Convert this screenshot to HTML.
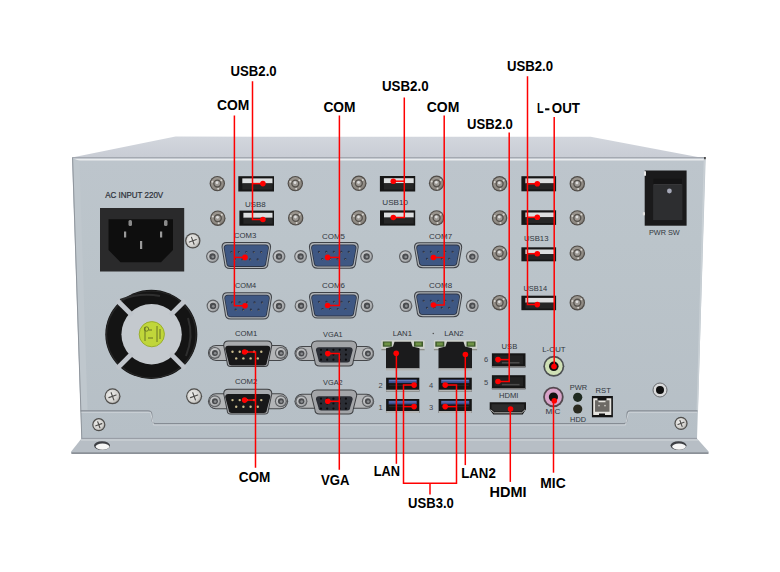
<!DOCTYPE html>
<html><head><meta charset="utf-8"><style>
html,body{margin:0;padding:0;background:#fff;width:780px;height:572px;overflow:hidden}
svg{display:block;font-family:"Liberation Sans",sans-serif}
</style></head><body>
<svg width="780" height="572" viewBox="0 0 780 572" font-family="Liberation Sans, sans-serif">
<defs>
<radialGradient id="gScrew" cx="0.4" cy="0.4" r="0.7"><stop offset="0" stop-color="#f0f0ee"/><stop offset="0.7" stop-color="#d2d1ce"/><stop offset="1" stop-color="#9b9a97"/></radialGradient>
<radialGradient id="gStud" cx="0.45" cy="0.4" r="0.7"><stop offset="0" stop-color="#aaa59e"/><stop offset="0.7" stop-color="#8f8a83"/><stop offset="1" stop-color="#625e59"/></radialGradient>
<radialGradient id="gNut" cx="0.4" cy="0.4" r="0.7"><stop offset="0" stop-color="#dadbdc"/><stop offset="0.7" stop-color="#b0b2b4"/><stop offset="1" stop-color="#7e8083"/></radialGradient>
<linearGradient id="gTop" x1="0" y1="0" x2="0" y2="1"><stop offset="0" stop-color="#d2d6dd"/><stop offset="1" stop-color="#c8ccd4"/></linearGradient>
<linearGradient id="gFront" x1="0" y1="0" x2="0" y2="1"><stop offset="0" stop-color="#bdc5cc"/><stop offset="0.3" stop-color="#bbc4ca"/><stop offset="1" stop-color="#b6bfc6"/></linearGradient>
</defs>
<rect width="780" height="572" fill="#fff"/>
<path d="M72,157.5 L175.5,136.6 L590.6,136.8 L705.7,158.6 Z" fill="url(#gTop)"/>
<path d="M72,158 L705.7,158 L697,439 L81.5,439 Z" fill="url(#gFront)"/>
<line x1="72" y1="157.6" x2="705.7" y2="157.6" stroke="#a4a9b1" stroke-width="1.2"/>
<line x1="73" y1="159.6" x2="705" y2="159.6" stroke="#e9ecee" stroke-width="1.8"/>
<path d="M72.3,158 L79.5,161 L87.5,410.5 L80.6,410.5 Z" fill="#bfc7cd"/>
<line x1="72.6" y1="158" x2="81.8" y2="439" stroke="#8f959c" stroke-width="1"/>
<line x1="704.5" y1="158" x2="697.3" y2="411" stroke="#c9d0d5" stroke-width="1.5"/>
<rect x="704" y="157" width="1.8" height="2.2" fill="#4a4a4a"/>
<path d="M80.5,410.9 L148,410.9 Q151.5,411 151.8,414 L152.2,421 Q152.5,423.6 155,423.6 L624,423.6 Q626.5,423.6 626.8,421 L627,414 Q627.2,410.9 630,410.9 L697.5,410.9" fill="none" stroke="#868c94" stroke-width="1.1"/>
<path d="M81.5,412.3 L150.5,412.3 L153.5,425 L625.5,425 L628.5,412.3 L697,412.3" fill="none" stroke="#cdd2d7" stroke-width="1"/>
<path d="M81.5,438.6 L697,438.6 L708.6,451.5 Q709,454 706,454 L73,454 Q70.5,454 71.2,451.5 Z" fill="#b7bec5"/>
<line x1="81.5" y1="438.4" x2="697" y2="438.4" stroke="#959ba3" stroke-width="1"/>
<line x1="81" y1="440" x2="698" y2="440" stroke="#d3d8dc" stroke-width="1.2"/>
<line x1="71.5" y1="453.2" x2="708.5" y2="453.2" stroke="#8b9097" stroke-width="1.8"/>
<ellipse cx="102" cy="445.6" rx="8" ry="4.3" fill="#3e4045"/>
<ellipse cx="102.5" cy="446.6" rx="6.8" ry="3.1" fill="#f6f6f6"/>
<ellipse cx="678.5" cy="445.6" rx="8" ry="4.3" fill="#3e4045"/>
<ellipse cx="679.0" cy="446.6" rx="6.8" ry="3.1" fill="#f6f6f6"/>
<rect x="100" y="208" width="84.2" height="63.5" fill="#2a2a2b"/>
<path d="M108.5,219.2 L173,219.2 L173,250 L161,262.3 L120.5,262.3 L108.5,250 Z" fill="#0e0e0e"/>
<rect x="124" y="231.5" width="2.2" height="6" fill="#9a9a9a"/>
<rect x="160" y="231.5" width="2.2" height="6" fill="#9a9a9a"/>
<rect x="140" y="241" width="2.2" height="8" fill="#9a9a9a"/>
<rect x="128.5" y="220" width="3.5" height="6" rx="1.5" fill="#8a8a8a"/>
<rect x="164" y="220" width="3.5" height="6" rx="1.5" fill="#8a8a8a"/>
<text x="105.2" y="197.9" font-size="8.2" fill="#2c3038" stroke="#2c3038" stroke-width="0.22" textLength="58" lengthAdjust="spacingAndGlyphs">AC INPUT 220V</text>
<circle cx="192.8" cy="240.8" r="7.7" fill="#4e4d4b"/>
<circle cx="192.8" cy="240.8" r="6.50" fill="url(#gScrew)"/>
<g transform="translate(192.8 240.8) rotate(-20)" stroke="#4f4e4c" stroke-width="1.15" stroke-linecap="round"><line x1="-3.70" y1="0" x2="3.70" y2="0"/><line x1="0" y1="-3.70" x2="0" y2="3.70"/></g>
<ellipse cx="151.3" cy="334.4" rx="46" ry="44.6" fill="#141414"/>
<ellipse cx="151.3" cy="334.4" rx="44.8" ry="43.4" fill="none" stroke="#262626" stroke-width="1.2"/>
<path d="M120,300 Q140,292 160,296" fill="none" stroke="#2e2e2e" stroke-width="2"/>
<path d="M188,318 Q194,336 186,356" fill="none" stroke="#2e2e2e" stroke-width="2"/>
<circle cx="151.6" cy="334.2" r="30.2" fill="#c4c9ce"/>
<g transform="translate(151.2 334.4) rotate(45)"><rect x="27" y="-2.4" width="21" height="4.8" fill="#c0c5cb"/></g>
<g transform="translate(151.2 334.4) rotate(135)"><rect x="27" y="-2.4" width="21" height="4.8" fill="#c0c5cb"/></g>
<g transform="translate(151.2 334.4) rotate(225)"><rect x="27" y="-2.4" width="21" height="4.8" fill="#c0c5cb"/></g>
<g transform="translate(151.2 334.4) rotate(315)"><rect x="27" y="-2.4" width="21" height="4.8" fill="#c0c5cb"/></g>
<circle cx="151.8" cy="334.2" r="12.6" fill="#c0d63a"/>
<circle cx="151.8" cy="334.2" r="12.6" fill="none" stroke="#9aae2c" stroke-width="1"/>
<line x1="145" y1="327" x2="145" y2="341" stroke="#5e6a22" stroke-width="0.9"/>
<line x1="157" y1="326" x2="157" y2="342" stroke="#5e6a22" stroke-width="0.9"/>
<line x1="149" y1="330" x2="152" y2="330" stroke="#5e6a22" stroke-width="0.9"/>
<line x1="148" y1="338" x2="153" y2="338" stroke="#5e6a22" stroke-width="0.9"/>
<line x1="160" y1="329" x2="160" y2="339" stroke="#5e6a22" stroke-width="0.9"/>
<circle cx="146.5" cy="329" r="2.2" fill="none" stroke="#5e6a22" stroke-width="0.8"/>
<circle cx="112.5" cy="396.3" r="8" fill="#4e4d4b"/>
<circle cx="112.5" cy="396.3" r="6.80" fill="url(#gScrew)"/>
<g transform="translate(112.5 396.3) rotate(-20)" stroke="#4f4e4c" stroke-width="1.15" stroke-linecap="round"><line x1="-3.84" y1="0" x2="3.84" y2="0"/><line x1="0" y1="-3.84" x2="0" y2="3.84"/></g>
<circle cx="194.1" cy="396.3" r="8" fill="#4e4d4b"/>
<circle cx="194.1" cy="396.3" r="6.80" fill="url(#gScrew)"/>
<g transform="translate(194.1 396.3) rotate(-20)" stroke="#4f4e4c" stroke-width="1.15" stroke-linecap="round"><line x1="-3.84" y1="0" x2="3.84" y2="0"/><line x1="0" y1="-3.84" x2="0" y2="3.84"/></g>
<circle cx="98.8" cy="424.7" r="6.6" fill="#4e4d4b"/>
<circle cx="98.8" cy="424.7" r="5.40" fill="url(#gScrew)"/>
<g transform="translate(98.8 424.7) rotate(-20)" stroke="#4f4e4c" stroke-width="1.15" stroke-linecap="round"><line x1="-3.17" y1="0" x2="3.17" y2="0"/><line x1="0" y1="-3.17" x2="0" y2="3.17"/></g>
<circle cx="681" cy="423.4" r="6.6" fill="#4e4d4b"/>
<circle cx="681" cy="423.4" r="5.40" fill="url(#gScrew)"/>
<g transform="translate(681 423.4) rotate(-20)" stroke="#4f4e4c" stroke-width="1.15" stroke-linecap="round"><line x1="-3.17" y1="0" x2="3.17" y2="0"/><line x1="0" y1="-3.17" x2="0" y2="3.17"/></g>
<circle cx="217.3" cy="183.6" r="7.7" fill="#4f4b47"/>
<circle cx="217.3" cy="183.6" r="6.60" fill="url(#gStud)"/>
<circle cx="217.3" cy="183.6" r="3.47" fill="#9d9994" stroke="#56524d" stroke-width="1.4"/>
<circle cx="217.0" cy="182.7" r="1.39" fill="#dcdcdc"/>
<circle cx="212.38" cy="181.81" r="1" fill="#d6d4d0"/>
<circle cx="221.31" cy="180.23" r="1" fill="#d6d4d0"/>
<circle cx="218.21" cy="188.76" r="1" fill="#d6d4d0"/>
<circle cx="217.8" cy="218.2" r="7.7" fill="#4f4b47"/>
<circle cx="217.8" cy="218.2" r="6.60" fill="url(#gStud)"/>
<circle cx="217.8" cy="218.2" r="3.47" fill="#9d9994" stroke="#56524d" stroke-width="1.4"/>
<circle cx="217.5" cy="217.29999999999998" r="1.39" fill="#dcdcdc"/>
<circle cx="212.88" cy="216.41" r="1" fill="#d6d4d0"/>
<circle cx="221.81" cy="214.83" r="1" fill="#d6d4d0"/>
<circle cx="218.71" cy="223.36" r="1" fill="#d6d4d0"/>
<circle cx="295.3" cy="183.6" r="7.7" fill="#4f4b47"/>
<circle cx="295.3" cy="183.6" r="6.60" fill="url(#gStud)"/>
<circle cx="295.3" cy="183.6" r="3.47" fill="#9d9994" stroke="#56524d" stroke-width="1.4"/>
<circle cx="295.0" cy="182.7" r="1.39" fill="#dcdcdc"/>
<circle cx="290.38" cy="181.81" r="1" fill="#d6d4d0"/>
<circle cx="299.31" cy="180.23" r="1" fill="#d6d4d0"/>
<circle cx="296.21" cy="188.76" r="1" fill="#d6d4d0"/>
<circle cx="295.7" cy="217.9" r="7.7" fill="#4f4b47"/>
<circle cx="295.7" cy="217.9" r="6.60" fill="url(#gStud)"/>
<circle cx="295.7" cy="217.9" r="3.47" fill="#9d9994" stroke="#56524d" stroke-width="1.4"/>
<circle cx="295.4" cy="217.0" r="1.39" fill="#dcdcdc"/>
<circle cx="290.78" cy="216.11" r="1" fill="#d6d4d0"/>
<circle cx="299.71" cy="214.53" r="1" fill="#d6d4d0"/>
<circle cx="296.61" cy="223.06" r="1" fill="#d6d4d0"/>
<circle cx="358.8" cy="183.3" r="7.7" fill="#4f4b47"/>
<circle cx="358.8" cy="183.3" r="6.60" fill="url(#gStud)"/>
<circle cx="358.8" cy="183.3" r="3.47" fill="#9d9994" stroke="#56524d" stroke-width="1.4"/>
<circle cx="358.5" cy="182.4" r="1.39" fill="#dcdcdc"/>
<circle cx="353.88" cy="181.51" r="1" fill="#d6d4d0"/>
<circle cx="362.81" cy="179.93" r="1" fill="#d6d4d0"/>
<circle cx="359.71" cy="188.46" r="1" fill="#d6d4d0"/>
<circle cx="358.8" cy="217.9" r="7.7" fill="#4f4b47"/>
<circle cx="358.8" cy="217.9" r="6.60" fill="url(#gStud)"/>
<circle cx="358.8" cy="217.9" r="3.47" fill="#9d9994" stroke="#56524d" stroke-width="1.4"/>
<circle cx="358.5" cy="217.0" r="1.39" fill="#dcdcdc"/>
<circle cx="353.88" cy="216.11" r="1" fill="#d6d4d0"/>
<circle cx="362.81" cy="214.53" r="1" fill="#d6d4d0"/>
<circle cx="359.71" cy="223.06" r="1" fill="#d6d4d0"/>
<circle cx="436.6" cy="183.3" r="7.7" fill="#4f4b47"/>
<circle cx="436.6" cy="183.3" r="6.60" fill="url(#gStud)"/>
<circle cx="436.6" cy="183.3" r="3.47" fill="#9d9994" stroke="#56524d" stroke-width="1.4"/>
<circle cx="436.3" cy="182.4" r="1.39" fill="#dcdcdc"/>
<circle cx="431.68" cy="181.51" r="1" fill="#d6d4d0"/>
<circle cx="440.61" cy="179.93" r="1" fill="#d6d4d0"/>
<circle cx="437.51" cy="188.46" r="1" fill="#d6d4d0"/>
<circle cx="436.6" cy="217.9" r="7.7" fill="#4f4b47"/>
<circle cx="436.6" cy="217.9" r="6.60" fill="url(#gStud)"/>
<circle cx="436.6" cy="217.9" r="3.47" fill="#9d9994" stroke="#56524d" stroke-width="1.4"/>
<circle cx="436.3" cy="217.0" r="1.39" fill="#dcdcdc"/>
<circle cx="431.68" cy="216.11" r="1" fill="#d6d4d0"/>
<circle cx="440.61" cy="214.53" r="1" fill="#d6d4d0"/>
<circle cx="437.51" cy="223.06" r="1" fill="#d6d4d0"/>
<circle cx="499.6" cy="183.8" r="7.7" fill="#4f4b47"/>
<circle cx="499.6" cy="183.8" r="6.60" fill="url(#gStud)"/>
<circle cx="499.6" cy="183.8" r="3.47" fill="#9d9994" stroke="#56524d" stroke-width="1.4"/>
<circle cx="499.3" cy="182.9" r="1.39" fill="#dcdcdc"/>
<circle cx="494.68" cy="182.01" r="1" fill="#d6d4d0"/>
<circle cx="503.61" cy="180.43" r="1" fill="#d6d4d0"/>
<circle cx="500.51" cy="188.96" r="1" fill="#d6d4d0"/>
<circle cx="499.6" cy="217.9" r="7.7" fill="#4f4b47"/>
<circle cx="499.6" cy="217.9" r="6.60" fill="url(#gStud)"/>
<circle cx="499.6" cy="217.9" r="3.47" fill="#9d9994" stroke="#56524d" stroke-width="1.4"/>
<circle cx="499.3" cy="217.0" r="1.39" fill="#dcdcdc"/>
<circle cx="494.68" cy="216.11" r="1" fill="#d6d4d0"/>
<circle cx="503.61" cy="214.53" r="1" fill="#d6d4d0"/>
<circle cx="500.51" cy="223.06" r="1" fill="#d6d4d0"/>
<circle cx="499.6" cy="253.1" r="7.7" fill="#4f4b47"/>
<circle cx="499.6" cy="253.1" r="6.60" fill="url(#gStud)"/>
<circle cx="499.6" cy="253.1" r="3.47" fill="#9d9994" stroke="#56524d" stroke-width="1.4"/>
<circle cx="499.3" cy="252.2" r="1.39" fill="#dcdcdc"/>
<circle cx="494.68" cy="251.31" r="1" fill="#d6d4d0"/>
<circle cx="503.61" cy="249.73" r="1" fill="#d6d4d0"/>
<circle cx="500.51" cy="258.26" r="1" fill="#d6d4d0"/>
<circle cx="499.6" cy="302.7" r="7.7" fill="#4f4b47"/>
<circle cx="499.6" cy="302.7" r="6.60" fill="url(#gStud)"/>
<circle cx="499.6" cy="302.7" r="3.47" fill="#9d9994" stroke="#56524d" stroke-width="1.4"/>
<circle cx="499.3" cy="301.8" r="1.39" fill="#dcdcdc"/>
<circle cx="494.68" cy="300.91" r="1" fill="#d6d4d0"/>
<circle cx="503.61" cy="299.33" r="1" fill="#d6d4d0"/>
<circle cx="500.51" cy="307.86" r="1" fill="#d6d4d0"/>
<circle cx="577.3" cy="183.8" r="7.7" fill="#4f4b47"/>
<circle cx="577.3" cy="183.8" r="6.60" fill="url(#gStud)"/>
<circle cx="577.3" cy="183.8" r="3.47" fill="#9d9994" stroke="#56524d" stroke-width="1.4"/>
<circle cx="577.0" cy="182.9" r="1.39" fill="#dcdcdc"/>
<circle cx="572.38" cy="182.01" r="1" fill="#d6d4d0"/>
<circle cx="581.31" cy="180.43" r="1" fill="#d6d4d0"/>
<circle cx="578.21" cy="188.96" r="1" fill="#d6d4d0"/>
<circle cx="577.3" cy="217.9" r="7.7" fill="#4f4b47"/>
<circle cx="577.3" cy="217.9" r="6.60" fill="url(#gStud)"/>
<circle cx="577.3" cy="217.9" r="3.47" fill="#9d9994" stroke="#56524d" stroke-width="1.4"/>
<circle cx="577.0" cy="217.0" r="1.39" fill="#dcdcdc"/>
<circle cx="572.38" cy="216.11" r="1" fill="#d6d4d0"/>
<circle cx="581.31" cy="214.53" r="1" fill="#d6d4d0"/>
<circle cx="578.21" cy="223.06" r="1" fill="#d6d4d0"/>
<circle cx="577.3" cy="253.1" r="7.7" fill="#4f4b47"/>
<circle cx="577.3" cy="253.1" r="6.60" fill="url(#gStud)"/>
<circle cx="577.3" cy="253.1" r="3.47" fill="#9d9994" stroke="#56524d" stroke-width="1.4"/>
<circle cx="577.0" cy="252.2" r="1.39" fill="#dcdcdc"/>
<circle cx="572.38" cy="251.31" r="1" fill="#d6d4d0"/>
<circle cx="581.31" cy="249.73" r="1" fill="#d6d4d0"/>
<circle cx="578.21" cy="258.26" r="1" fill="#d6d4d0"/>
<circle cx="577.3" cy="302.7" r="7.7" fill="#4f4b47"/>
<circle cx="577.3" cy="302.7" r="6.60" fill="url(#gStud)"/>
<circle cx="577.3" cy="302.7" r="3.47" fill="#9d9994" stroke="#56524d" stroke-width="1.4"/>
<circle cx="577.0" cy="301.8" r="1.39" fill="#dcdcdc"/>
<circle cx="572.38" cy="300.91" r="1" fill="#d6d4d0"/>
<circle cx="581.31" cy="299.33" r="1" fill="#d6d4d0"/>
<circle cx="578.21" cy="307.86" r="1" fill="#d6d4d0"/>
<rect x="238.3" y="176.2" width="35.7" height="15.3" fill="#161616"/>
<rect x="242.3" y="178.39999999999998" width="30.2" height="5.0" fill="#dcdedf"/>
<rect x="242.3" y="183.4" width="30.2" height="6.1" fill="#262626"/>
<rect x="239.4" y="210.6" width="34.6" height="15.1" fill="#161616"/>
<rect x="243.4" y="212.79999999999998" width="29.1" height="5.0" fill="#dcdedf"/>
<rect x="243.4" y="217.8" width="29.1" height="6.0" fill="#262626"/>
<text x="245" y="206.9" font-size="8" fill="#30353c" textLength="20.8" lengthAdjust="spacingAndGlyphs">USB8</text>
<rect x="379.9" y="176" width="35.3" height="15.5" fill="#161616"/>
<rect x="383.9" y="178.2" width="29.8" height="5.1" fill="#dcdedf"/>
<rect x="383.9" y="183.3" width="29.8" height="6.2" fill="#262626"/>
<rect x="380" y="210.4" width="35.2" height="15.2" fill="#161616"/>
<rect x="384" y="212.6" width="29.7" height="5.0" fill="#dcdedf"/>
<rect x="384" y="217.6" width="29.7" height="6.1" fill="#262626"/>
<text x="382.3" y="205.2" font-size="8" fill="#30353c" textLength="25.7" lengthAdjust="spacingAndGlyphs">USB10</text>
<rect x="521.4" y="176.2" width="34.7" height="15.1" fill="#161616"/>
<rect x="525.4" y="178.39999999999998" width="29.2" height="5.0" fill="#dcdedf"/>
<rect x="525.4" y="183.4" width="29.2" height="6.0" fill="#262626"/>
<rect x="521.4" y="210.3" width="34.7" height="14.6" fill="#161616"/>
<rect x="525.4" y="212.5" width="29.2" height="4.8" fill="#dcdedf"/>
<rect x="525.4" y="217.3" width="29.2" height="5.8" fill="#262626"/>
<text x="523.9" y="241.1" font-size="8" fill="#30353c" textLength="24.6" lengthAdjust="spacingAndGlyphs">USB13</text>
<rect x="521.4" y="247.3" width="34.7" height="14.0" fill="#161616"/>
<rect x="525.4" y="249.5" width="29.2" height="4.6" fill="#dcdedf"/>
<rect x="525.4" y="254.1" width="29.2" height="5.6" fill="#262626"/>
<text x="523.4" y="290.9" font-size="8" fill="#30353c" textLength="23.7" lengthAdjust="spacingAndGlyphs">USB14</text>
<rect x="521.4" y="295.7" width="34.7" height="14.5" fill="#161616"/>
<rect x="525.4" y="297.9" width="29.2" height="4.8" fill="#dcdedf"/>
<rect x="525.4" y="302.7" width="29.2" height="5.8" fill="#262626"/>
<path d="M226.50,242.10 L266.10,242.10 Q271.10,242.10 271.10,247.10 L268.50,263.10 Q268.50,269.10 262.50,269.10 L230.10,269.10 Q224.10,269.10 224.10,263.10 L221.50,247.10 Q221.50,242.10 226.50,242.10 Z" fill="#3f4247"/>
<path d="M226.80,243.10 L265.80,243.10 Q270.10,243.10 270.10,247.40 L267.50,262.90 Q267.50,268.10 262.30,268.10 L230.30,268.10 Q225.10,268.10 225.10,262.90 L222.50,247.40 Q222.50,243.10 226.80,243.10 Z" fill="#aeb2b6"/>
<path d="M227.20,244.50 L265.40,244.50 Q268.90,244.50 268.90,248.00 L266.30,262.70 Q266.30,266.90 262.10,266.90 L230.50,266.90 Q226.30,266.90 226.30,262.70 L223.70,248.00 Q223.70,244.50 227.20,244.50 Z" fill="#2c3546"/>
<path d="M227.50,245.30 L265.10,245.30 Q268.10,245.30 268.10,248.30 L265.50,262.50 Q265.50,266.10 261.90,266.10 L230.70,266.10 Q227.10,266.10 227.10,262.50 L224.50,248.30 Q224.50,245.30 227.50,245.30 Z" fill="#3e5783"/>
<circle cx="231.4" cy="252.1" r="1.1" fill="#27314a"/>
<circle cx="231.8" cy="252.6" r="0.5" fill="#8a8470"/>
<circle cx="238.9" cy="252.1" r="1.1" fill="#27314a"/>
<circle cx="239.3" cy="252.6" r="0.5" fill="#8a8470"/>
<circle cx="246.3" cy="252.1" r="1.1" fill="#27314a"/>
<circle cx="246.7" cy="252.6" r="0.5" fill="#8a8470"/>
<circle cx="253.7" cy="252.1" r="1.1" fill="#27314a"/>
<circle cx="254.1" cy="252.6" r="0.5" fill="#8a8470"/>
<circle cx="261.2" cy="252.1" r="1.1" fill="#27314a"/>
<circle cx="261.6" cy="252.6" r="0.5" fill="#8a8470"/>
<circle cx="234.9" cy="259.4" r="1.1" fill="#27314a"/>
<circle cx="235.3" cy="259.9" r="0.5" fill="#8a8470"/>
<circle cx="242.5" cy="259.4" r="1.1" fill="#27314a"/>
<circle cx="242.9" cy="259.9" r="0.5" fill="#8a8470"/>
<circle cx="250.1" cy="259.4" r="1.1" fill="#27314a"/>
<circle cx="250.5" cy="259.9" r="0.5" fill="#8a8470"/>
<circle cx="257.7" cy="259.4" r="1.1" fill="#27314a"/>
<circle cx="258.1" cy="259.9" r="0.5" fill="#8a8470"/>
<text x="234" y="238.3" font-size="8" fill="#30353c" textLength="22.3" lengthAdjust="spacingAndGlyphs">COM3</text>
<path d="M227.10,292.30 L267.00,292.30 Q272.00,292.30 272.00,297.30 L269.40,313.50 Q269.40,319.50 263.40,319.50 L230.70,319.50 Q224.70,319.50 224.70,313.50 L222.10,297.30 Q222.10,292.30 227.10,292.30 Z" fill="#3f4247"/>
<path d="M227.40,293.30 L266.70,293.30 Q271.00,293.30 271.00,297.60 L268.40,313.30 Q268.40,318.50 263.20,318.50 L230.90,318.50 Q225.70,318.50 225.70,313.30 L223.10,297.60 Q223.10,293.30 227.40,293.30 Z" fill="#aeb2b6"/>
<path d="M227.80,294.70 L266.30,294.70 Q269.80,294.70 269.80,298.20 L267.20,313.10 Q267.20,317.30 263.00,317.30 L231.10,317.30 Q226.90,317.30 226.90,313.10 L224.30,298.20 Q224.30,294.70 227.80,294.70 Z" fill="#2c3546"/>
<path d="M228.10,295.50 L266.00,295.50 Q269.00,295.50 269.00,298.50 L266.40,312.90 Q266.40,316.50 262.80,316.50 L231.30,316.50 Q227.70,316.50 227.70,312.90 L225.10,298.50 Q225.10,295.50 228.10,295.50 Z" fill="#3e5783"/>
<circle cx="232.1" cy="302.4" r="1.1" fill="#27314a"/>
<circle cx="232.5" cy="302.9" r="0.5" fill="#8a8470"/>
<circle cx="239.6" cy="302.4" r="1.1" fill="#27314a"/>
<circle cx="240.0" cy="302.9" r="0.5" fill="#8a8470"/>
<circle cx="247.0" cy="302.4" r="1.1" fill="#27314a"/>
<circle cx="247.4" cy="302.9" r="0.5" fill="#8a8470"/>
<circle cx="254.5" cy="302.4" r="1.1" fill="#27314a"/>
<circle cx="254.9" cy="302.9" r="0.5" fill="#8a8470"/>
<circle cx="262.0" cy="302.4" r="1.1" fill="#27314a"/>
<circle cx="262.4" cy="302.9" r="0.5" fill="#8a8470"/>
<circle cx="235.6" cy="309.7" r="1.1" fill="#27314a"/>
<circle cx="236.0" cy="310.2" r="0.5" fill="#8a8470"/>
<circle cx="243.2" cy="309.7" r="1.1" fill="#27314a"/>
<circle cx="243.6" cy="310.2" r="0.5" fill="#8a8470"/>
<circle cx="250.9" cy="309.7" r="1.1" fill="#27314a"/>
<circle cx="251.3" cy="310.2" r="0.5" fill="#8a8470"/>
<circle cx="258.5" cy="309.7" r="1.1" fill="#27314a"/>
<circle cx="258.9" cy="310.2" r="0.5" fill="#8a8470"/>
<text x="234.9" y="288" font-size="8" fill="#30353c" textLength="21.3" lengthAdjust="spacingAndGlyphs">COM4</text>
<path d="M313.90,242.10 L353.70,242.10 Q358.70,242.10 358.70,247.10 L356.10,262.70 Q356.10,268.70 350.10,268.70 L317.50,268.70 Q311.50,268.70 311.50,262.70 L308.90,247.10 Q308.90,242.10 313.90,242.10 Z" fill="#3f4247"/>
<path d="M314.20,243.10 L353.40,243.10 Q357.70,243.10 357.70,247.40 L355.10,262.50 Q355.10,267.70 349.90,267.70 L317.70,267.70 Q312.50,267.70 312.50,262.50 L309.90,247.40 Q309.90,243.10 314.20,243.10 Z" fill="#aeb2b6"/>
<path d="M314.60,244.50 L353.00,244.50 Q356.50,244.50 356.50,248.00 L353.90,262.30 Q353.90,266.50 349.70,266.50 L317.90,266.50 Q313.70,266.50 313.70,262.30 L311.10,248.00 Q311.10,244.50 314.60,244.50 Z" fill="#2c3546"/>
<path d="M314.90,245.30 L352.70,245.30 Q355.70,245.30 355.70,248.30 L353.10,262.10 Q353.10,265.70 349.50,265.70 L318.10,265.70 Q314.50,265.70 314.50,262.10 L311.90,248.30 Q311.90,245.30 314.90,245.30 Z" fill="#3e5783"/>
<circle cx="318.9" cy="251.9" r="1.1" fill="#27314a"/>
<circle cx="319.3" cy="252.4" r="0.5" fill="#8a8470"/>
<circle cx="326.3" cy="251.9" r="1.1" fill="#27314a"/>
<circle cx="326.7" cy="252.4" r="0.5" fill="#8a8470"/>
<circle cx="333.8" cy="251.9" r="1.1" fill="#27314a"/>
<circle cx="334.2" cy="252.4" r="0.5" fill="#8a8470"/>
<circle cx="341.3" cy="251.9" r="1.1" fill="#27314a"/>
<circle cx="341.7" cy="252.4" r="0.5" fill="#8a8470"/>
<circle cx="348.7" cy="251.9" r="1.1" fill="#27314a"/>
<circle cx="349.1" cy="252.4" r="0.5" fill="#8a8470"/>
<circle cx="322.3" cy="259.1" r="1.1" fill="#27314a"/>
<circle cx="322.7" cy="259.6" r="0.5" fill="#8a8470"/>
<circle cx="330.0" cy="259.1" r="1.1" fill="#27314a"/>
<circle cx="330.4" cy="259.6" r="0.5" fill="#8a8470"/>
<circle cx="337.6" cy="259.1" r="1.1" fill="#27314a"/>
<circle cx="338.0" cy="259.6" r="0.5" fill="#8a8470"/>
<circle cx="345.3" cy="259.1" r="1.1" fill="#27314a"/>
<circle cx="345.7" cy="259.6" r="0.5" fill="#8a8470"/>
<text x="322" y="239" font-size="8" fill="#30353c" textLength="23.0" lengthAdjust="spacingAndGlyphs">COM5</text>
<path d="M314.00,292.00 L354.00,292.00 Q359.00,292.00 359.00,297.00 L356.40,312.60 Q356.40,318.60 350.40,318.60 L317.60,318.60 Q311.60,318.60 311.60,312.60 L309.00,297.00 Q309.00,292.00 314.00,292.00 Z" fill="#3f4247"/>
<path d="M314.30,293.00 L353.70,293.00 Q358.00,293.00 358.00,297.30 L355.40,312.40 Q355.40,317.60 350.20,317.60 L317.80,317.60 Q312.60,317.60 312.60,312.40 L310.00,297.30 Q310.00,293.00 314.30,293.00 Z" fill="#aeb2b6"/>
<path d="M314.70,294.40 L353.30,294.40 Q356.80,294.40 356.80,297.90 L354.20,312.20 Q354.20,316.40 350.00,316.40 L318.00,316.40 Q313.80,316.40 313.80,312.20 L311.20,297.90 Q311.20,294.40 314.70,294.40 Z" fill="#2c3546"/>
<path d="M315.00,295.20 L353.00,295.20 Q356.00,295.20 356.00,298.20 L353.40,312.00 Q353.40,315.60 349.80,315.60 L318.20,315.60 Q314.60,315.60 314.60,312.00 L312.00,298.20 Q312.00,295.20 315.00,295.20 Z" fill="#3e5783"/>
<circle cx="319.0" cy="301.8" r="1.1" fill="#27314a"/>
<circle cx="319.4" cy="302.3" r="0.5" fill="#8a8470"/>
<circle cx="326.5" cy="301.8" r="1.1" fill="#27314a"/>
<circle cx="326.9" cy="302.3" r="0.5" fill="#8a8470"/>
<circle cx="334.0" cy="301.8" r="1.1" fill="#27314a"/>
<circle cx="334.4" cy="302.3" r="0.5" fill="#8a8470"/>
<circle cx="341.5" cy="301.8" r="1.1" fill="#27314a"/>
<circle cx="341.9" cy="302.3" r="0.5" fill="#8a8470"/>
<circle cx="349.0" cy="301.8" r="1.1" fill="#27314a"/>
<circle cx="349.4" cy="302.3" r="0.5" fill="#8a8470"/>
<circle cx="322.5" cy="309.0" r="1.1" fill="#27314a"/>
<circle cx="322.9" cy="309.5" r="0.5" fill="#8a8470"/>
<circle cx="330.2" cy="309.0" r="1.1" fill="#27314a"/>
<circle cx="330.6" cy="309.5" r="0.5" fill="#8a8470"/>
<circle cx="337.8" cy="309.0" r="1.1" fill="#27314a"/>
<circle cx="338.2" cy="309.5" r="0.5" fill="#8a8470"/>
<circle cx="345.5" cy="309.0" r="1.1" fill="#27314a"/>
<circle cx="345.9" cy="309.5" r="0.5" fill="#8a8470"/>
<text x="322" y="288" font-size="8" fill="#30353c" textLength="23.0" lengthAdjust="spacingAndGlyphs">COM6</text>
<path d="M419.00,242.20 L457.20,242.20 Q462.20,242.20 462.20,247.20 L459.60,262.20 Q459.60,268.20 453.60,268.20 L422.60,268.20 Q416.60,268.20 416.60,262.20 L414.00,247.20 Q414.00,242.20 419.00,242.20 Z" fill="#3f4247"/>
<path d="M419.30,243.20 L456.90,243.20 Q461.20,243.20 461.20,247.50 L458.60,262.00 Q458.60,267.20 453.40,267.20 L422.80,267.20 Q417.60,267.20 417.60,262.00 L415.00,247.50 Q415.00,243.20 419.30,243.20 Z" fill="#aeb2b6"/>
<path d="M419.70,244.60 L456.50,244.60 Q460.00,244.60 460.00,248.10 L457.40,261.80 Q457.40,266.00 453.20,266.00 L423.00,266.00 Q418.80,266.00 418.80,261.80 L416.20,248.10 Q416.20,244.60 419.70,244.60 Z" fill="#2c3546"/>
<path d="M420.00,245.40 L456.20,245.40 Q459.20,245.40 459.20,248.40 L456.60,261.60 Q456.60,265.20 453.00,265.20 L423.20,265.20 Q419.60,265.20 419.60,261.60 L417.00,248.40 Q417.00,245.40 420.00,245.40 Z" fill="#3e5783"/>
<circle cx="423.6" cy="251.8" r="1.1" fill="#27314a"/>
<circle cx="424.0" cy="252.3" r="0.5" fill="#8a8470"/>
<circle cx="430.9" cy="251.8" r="1.1" fill="#27314a"/>
<circle cx="431.3" cy="252.3" r="0.5" fill="#8a8470"/>
<circle cx="438.1" cy="251.8" r="1.1" fill="#27314a"/>
<circle cx="438.5" cy="252.3" r="0.5" fill="#8a8470"/>
<circle cx="445.3" cy="251.8" r="1.1" fill="#27314a"/>
<circle cx="445.7" cy="252.3" r="0.5" fill="#8a8470"/>
<circle cx="452.6" cy="251.8" r="1.1" fill="#27314a"/>
<circle cx="453.0" cy="252.3" r="0.5" fill="#8a8470"/>
<circle cx="427.0" cy="258.8" r="1.1" fill="#27314a"/>
<circle cx="427.4" cy="259.3" r="0.5" fill="#8a8470"/>
<circle cx="434.4" cy="258.8" r="1.1" fill="#27314a"/>
<circle cx="434.8" cy="259.3" r="0.5" fill="#8a8470"/>
<circle cx="441.8" cy="258.8" r="1.1" fill="#27314a"/>
<circle cx="442.2" cy="259.3" r="0.5" fill="#8a8470"/>
<circle cx="449.2" cy="258.8" r="1.1" fill="#27314a"/>
<circle cx="449.6" cy="259.3" r="0.5" fill="#8a8470"/>
<text x="429" y="239.3" font-size="8" fill="#30353c" textLength="23.1" lengthAdjust="spacingAndGlyphs">COM7</text>
<path d="M419.00,291.20 L457.20,291.20 Q462.20,291.20 462.20,296.20 L459.60,311.20 Q459.60,317.20 453.60,317.20 L422.60,317.20 Q416.60,317.20 416.60,311.20 L414.00,296.20 Q414.00,291.20 419.00,291.20 Z" fill="#3f4247"/>
<path d="M419.30,292.20 L456.90,292.20 Q461.20,292.20 461.20,296.50 L458.60,311.00 Q458.60,316.20 453.40,316.20 L422.80,316.20 Q417.60,316.20 417.60,311.00 L415.00,296.50 Q415.00,292.20 419.30,292.20 Z" fill="#aeb2b6"/>
<path d="M419.70,293.60 L456.50,293.60 Q460.00,293.60 460.00,297.10 L457.40,310.80 Q457.40,315.00 453.20,315.00 L423.00,315.00 Q418.80,315.00 418.80,310.80 L416.20,297.10 Q416.20,293.60 419.70,293.60 Z" fill="#2c3546"/>
<path d="M420.00,294.40 L456.20,294.40 Q459.20,294.40 459.20,297.40 L456.60,310.60 Q456.60,314.20 453.00,314.20 L423.20,314.20 Q419.60,314.20 419.60,310.60 L417.00,297.40 Q417.00,294.40 420.00,294.40 Z" fill="#3e5783"/>
<circle cx="423.6" cy="300.8" r="1.1" fill="#27314a"/>
<circle cx="424.0" cy="301.3" r="0.5" fill="#8a8470"/>
<circle cx="430.9" cy="300.8" r="1.1" fill="#27314a"/>
<circle cx="431.3" cy="301.3" r="0.5" fill="#8a8470"/>
<circle cx="438.1" cy="300.8" r="1.1" fill="#27314a"/>
<circle cx="438.5" cy="301.3" r="0.5" fill="#8a8470"/>
<circle cx="445.3" cy="300.8" r="1.1" fill="#27314a"/>
<circle cx="445.7" cy="301.3" r="0.5" fill="#8a8470"/>
<circle cx="452.6" cy="300.8" r="1.1" fill="#27314a"/>
<circle cx="453.0" cy="301.3" r="0.5" fill="#8a8470"/>
<circle cx="427.0" cy="307.8" r="1.1" fill="#27314a"/>
<circle cx="427.4" cy="308.3" r="0.5" fill="#8a8470"/>
<circle cx="434.4" cy="307.8" r="1.1" fill="#27314a"/>
<circle cx="434.8" cy="308.3" r="0.5" fill="#8a8470"/>
<circle cx="441.8" cy="307.8" r="1.1" fill="#27314a"/>
<circle cx="442.2" cy="308.3" r="0.5" fill="#8a8470"/>
<circle cx="449.2" cy="307.8" r="1.1" fill="#27314a"/>
<circle cx="449.6" cy="308.3" r="0.5" fill="#8a8470"/>
<text x="429" y="288.3" font-size="8" fill="#30353c" textLength="23.1" lengthAdjust="spacingAndGlyphs">COM8</text>
<circle cx="212.5" cy="256.5" r="6.4" fill="#5e6063"/>
<circle cx="212.5" cy="256.5" r="5.30" fill="url(#gNut)"/>
<circle cx="212.5" cy="256.5" r="3.20" fill="#4a4c4f"/>
<circle cx="212.8" cy="256.8" r="1.41" fill="#8a8c8f"/>
<circle cx="279" cy="256.5" r="6.4" fill="#5e6063"/>
<circle cx="279" cy="256.5" r="5.30" fill="url(#gNut)"/>
<circle cx="279" cy="256.5" r="3.20" fill="#4a4c4f"/>
<circle cx="279.3" cy="256.8" r="1.41" fill="#8a8c8f"/>
<circle cx="213" cy="306" r="6.4" fill="#5e6063"/>
<circle cx="213" cy="306" r="5.30" fill="url(#gNut)"/>
<circle cx="213" cy="306" r="3.20" fill="#4a4c4f"/>
<circle cx="213.3" cy="306.3" r="1.41" fill="#8a8c8f"/>
<circle cx="279" cy="306" r="6.4" fill="#5e6063"/>
<circle cx="279" cy="306" r="5.30" fill="url(#gNut)"/>
<circle cx="279" cy="306" r="3.20" fill="#4a4c4f"/>
<circle cx="279.3" cy="306.3" r="1.41" fill="#8a8c8f"/>
<circle cx="300.6" cy="256.5" r="6.4" fill="#5e6063"/>
<circle cx="300.6" cy="256.5" r="5.30" fill="url(#gNut)"/>
<circle cx="300.6" cy="256.5" r="3.20" fill="#4a4c4f"/>
<circle cx="300.90000000000003" cy="256.8" r="1.41" fill="#8a8c8f"/>
<circle cx="366.6" cy="256.5" r="6.4" fill="#5e6063"/>
<circle cx="366.6" cy="256.5" r="5.30" fill="url(#gNut)"/>
<circle cx="366.6" cy="256.5" r="3.20" fill="#4a4c4f"/>
<circle cx="366.90000000000003" cy="256.8" r="1.41" fill="#8a8c8f"/>
<circle cx="301" cy="305.8" r="6.4" fill="#5e6063"/>
<circle cx="301" cy="305.8" r="5.30" fill="url(#gNut)"/>
<circle cx="301" cy="305.8" r="3.20" fill="#4a4c4f"/>
<circle cx="301.3" cy="306.1" r="1.41" fill="#8a8c8f"/>
<circle cx="367" cy="305.8" r="6.4" fill="#5e6063"/>
<circle cx="367" cy="305.8" r="5.30" fill="url(#gNut)"/>
<circle cx="367" cy="305.8" r="3.20" fill="#4a4c4f"/>
<circle cx="367.3" cy="306.1" r="1.41" fill="#8a8c8f"/>
<circle cx="405.4" cy="256.6" r="6.4" fill="#5e6063"/>
<circle cx="405.4" cy="256.6" r="5.30" fill="url(#gNut)"/>
<circle cx="405.4" cy="256.6" r="3.20" fill="#4a4c4f"/>
<circle cx="405.7" cy="256.90000000000003" r="1.41" fill="#8a8c8f"/>
<circle cx="472.3" cy="256.6" r="6.4" fill="#5e6063"/>
<circle cx="472.3" cy="256.6" r="5.30" fill="url(#gNut)"/>
<circle cx="472.3" cy="256.6" r="3.20" fill="#4a4c4f"/>
<circle cx="472.6" cy="256.90000000000003" r="1.41" fill="#8a8c8f"/>
<circle cx="406" cy="305.7" r="6.4" fill="#5e6063"/>
<circle cx="406" cy="305.7" r="5.30" fill="url(#gNut)"/>
<circle cx="406" cy="305.7" r="3.20" fill="#4a4c4f"/>
<circle cx="406.3" cy="306.0" r="1.41" fill="#8a8c8f"/>
<circle cx="472.3" cy="305.7" r="6.4" fill="#5e6063"/>
<circle cx="472.3" cy="305.7" r="5.30" fill="url(#gNut)"/>
<circle cx="472.3" cy="305.7" r="3.20" fill="#4a4c4f"/>
<circle cx="472.6" cy="306.0" r="1.41" fill="#8a8c8f"/>
<rect x="208" y="344.9" width="80.10000000000002" height="16" rx="8.0" fill="#45474a"/>
<rect x="209" y="345.9" width="78.10000000000002" height="14" rx="7.0" fill="#b3b5b7"/>
<path d="M228.20,340.40 L267.30,340.40 Q272.30,340.40 272.30,345.40 L268.80,363.00 Q268.80,367.00 264.80,367.00 L230.70,367.00 Q226.70,367.00 226.70,363.00 L223.20,345.40 Q223.20,340.40 228.20,340.40 Z" fill="#3c3e41"/>
<path d="M228.40,341.40 L267.10,341.40 Q271.30,341.40 271.30,345.60 L267.80,362.80 Q267.80,366.00 264.60,366.00 L230.90,366.00 Q227.70,366.00 227.70,362.80 L224.20,345.60 Q224.20,341.40 228.40,341.40 Z" fill="#a9abae"/>
<path d="M228.20,345.70 L267.30,345.70 Q270.30,345.70 270.30,348.70 L266.80,362.40 Q266.80,365.40 263.80,365.40 L231.70,365.40 Q228.70,365.40 228.70,362.40 L225.20,348.70 Q225.20,345.70 228.20,345.70 Z" fill="#181819"/>
<circle cx="232.5" cy="351.7" r="1.2" fill="#cbbd8e"/>
<circle cx="239.7" cy="351.7" r="1.2" fill="#cbbd8e"/>
<circle cx="246.9" cy="351.7" r="1.2" fill="#cbbd8e"/>
<circle cx="254.1" cy="351.7" r="1.2" fill="#cbbd8e"/>
<circle cx="261.3" cy="351.7" r="1.2" fill="#cbbd8e"/>
<circle cx="236.2" cy="358.4" r="1.2" fill="#cbbd8e"/>
<circle cx="243.4" cy="358.4" r="1.2" fill="#cbbd8e"/>
<circle cx="250.6" cy="358.4" r="1.2" fill="#cbbd8e"/>
<circle cx="257.8" cy="358.4" r="1.2" fill="#cbbd8e"/>
<circle cx="214.9" cy="352.9" r="6" fill="#5e6063"/>
<circle cx="214.9" cy="352.9" r="4.90" fill="url(#gNut)"/>
<circle cx="214.9" cy="352.9" r="3.00" fill="#4a4c4f"/>
<circle cx="215.20000000000002" cy="353.2" r="1.32" fill="#8a8c8f"/>
<circle cx="280.9" cy="352.9" r="6" fill="#5e6063"/>
<circle cx="280.9" cy="352.9" r="4.90" fill="url(#gNut)"/>
<circle cx="280.9" cy="352.9" r="3.00" fill="#4a4c4f"/>
<circle cx="281.2" cy="353.2" r="1.32" fill="#8a8c8f"/>
<text x="235" y="336.1" font-size="8" fill="#30353c" textLength="22.3" lengthAdjust="spacingAndGlyphs">COM1</text>
<rect x="208" y="393.3" width="80.10000000000002" height="16" rx="8.0" fill="#45474a"/>
<rect x="209" y="394.3" width="78.10000000000002" height="14" rx="7.0" fill="#b3b5b7"/>
<path d="M228.20,388.80 L267.30,388.80 Q272.30,388.80 272.30,393.80 L268.80,410.60 Q268.80,414.60 264.80,414.60 L230.70,414.60 Q226.70,414.60 226.70,410.60 L223.20,393.80 Q223.20,388.80 228.20,388.80 Z" fill="#3c3e41"/>
<path d="M228.40,389.80 L267.10,389.80 Q271.30,389.80 271.30,394.00 L267.80,410.40 Q267.80,413.60 264.60,413.60 L230.90,413.60 Q227.70,413.60 227.70,410.40 L224.20,394.00 Q224.20,389.80 228.40,389.80 Z" fill="#a9abae"/>
<path d="M228.20,394.10 L267.30,394.10 Q270.30,394.10 270.30,397.10 L266.80,410.00 Q266.80,413.00 263.80,413.00 L231.70,413.00 Q228.70,413.00 228.70,410.00 L225.20,397.10 Q225.20,394.10 228.20,394.10 Z" fill="#181819"/>
<circle cx="232.5" cy="400.1" r="1.2" fill="#cbbd8e"/>
<circle cx="239.7" cy="400.1" r="1.2" fill="#cbbd8e"/>
<circle cx="246.9" cy="400.1" r="1.2" fill="#cbbd8e"/>
<circle cx="254.1" cy="400.1" r="1.2" fill="#cbbd8e"/>
<circle cx="261.3" cy="400.1" r="1.2" fill="#cbbd8e"/>
<circle cx="236.2" cy="406.8" r="1.2" fill="#cbbd8e"/>
<circle cx="243.4" cy="406.8" r="1.2" fill="#cbbd8e"/>
<circle cx="250.6" cy="406.8" r="1.2" fill="#cbbd8e"/>
<circle cx="257.8" cy="406.8" r="1.2" fill="#cbbd8e"/>
<circle cx="214.9" cy="401.3" r="6" fill="#5e6063"/>
<circle cx="214.9" cy="401.3" r="4.90" fill="url(#gNut)"/>
<circle cx="214.9" cy="401.3" r="3.00" fill="#4a4c4f"/>
<circle cx="215.20000000000002" cy="401.6" r="1.32" fill="#8a8c8f"/>
<circle cx="280.9" cy="401.3" r="6" fill="#5e6063"/>
<circle cx="280.9" cy="401.3" r="4.90" fill="url(#gNut)"/>
<circle cx="280.9" cy="401.3" r="3.00" fill="#4a4c4f"/>
<circle cx="281.2" cy="401.6" r="1.32" fill="#8a8c8f"/>
<text x="235" y="384.3" font-size="8" fill="#30353c" textLength="22.3" lengthAdjust="spacingAndGlyphs">COM2</text>
<rect x="294.5" y="346.0" width="79.60000000000002" height="15" rx="7.5" fill="#45474a"/>
<rect x="295.5" y="347.0" width="77.60000000000002" height="13" rx="6.5" fill="#b3b5b7"/>
<path d="M316.90,340.50 L351.20,340.50 Q357.20,340.50 357.20,346.50 L353.70,361.50 Q353.70,366.50 348.70,366.50 L319.40,366.50 Q314.40,366.50 314.40,361.50 L310.90,346.50 Q310.90,340.50 316.90,340.50 Z" fill="#3c3e41"/>
<path d="M316.90,341.50 L351.20,341.50 Q356.20,341.50 356.20,346.50 L352.70,361.50 Q352.70,365.50 348.70,365.50 L319.40,365.50 Q315.40,365.50 315.40,361.50 L311.90,346.50 Q311.90,341.50 316.90,341.50 Z" fill="#a3a5a8"/>
<path d="M318.90,347.30 L349.70,347.30 Q352.70,347.30 352.70,350.30 L350.20,359.50 Q350.20,362.50 347.20,362.50 L321.40,362.50 Q318.40,362.50 318.40,359.50 L315.90,350.30 Q315.90,347.30 318.90,347.30 Z" fill="#2b2e35"/>
<circle cx="321.0" cy="349.8" r="1.1" fill="#0c0c0e"/>
<circle cx="327.2" cy="349.8" r="1.1" fill="#0c0c0e"/>
<circle cx="333.4" cy="349.8" r="1.1" fill="#0c0c0e"/>
<circle cx="339.7" cy="349.8" r="1.1" fill="#0c0c0e"/>
<circle cx="345.9" cy="349.8" r="1.1" fill="#0c0c0e"/>
<circle cx="321.0" cy="354.6" r="1.1" fill="#0c0c0e"/>
<circle cx="327.2" cy="354.6" r="1.1" fill="#0c0c0e"/>
<circle cx="333.4" cy="354.6" r="1.1" fill="#0c0c0e"/>
<circle cx="339.7" cy="354.6" r="1.1" fill="#0c0c0e"/>
<circle cx="345.9" cy="354.6" r="1.1" fill="#0c0c0e"/>
<circle cx="321.0" cy="359.7" r="1.1" fill="#0c0c0e"/>
<circle cx="327.2" cy="359.7" r="1.1" fill="#0c0c0e"/>
<circle cx="333.4" cy="359.7" r="1.1" fill="#0c0c0e"/>
<circle cx="339.7" cy="359.7" r="1.1" fill="#0c0c0e"/>
<circle cx="345.9" cy="359.7" r="1.1" fill="#0c0c0e"/>
<circle cx="301.4" cy="353.5" r="6" fill="#5e6063"/>
<circle cx="301.4" cy="353.5" r="4.90" fill="url(#gNut)"/>
<circle cx="301.4" cy="353.5" r="3.00" fill="#4a4c4f"/>
<circle cx="301.7" cy="353.8" r="1.32" fill="#8a8c8f"/>
<circle cx="367.9" cy="353.5" r="6" fill="#5e6063"/>
<circle cx="367.9" cy="353.5" r="4.90" fill="url(#gNut)"/>
<circle cx="367.9" cy="353.5" r="3.00" fill="#4a4c4f"/>
<circle cx="368.2" cy="353.8" r="1.32" fill="#8a8c8f"/>
<text x="323.1" y="336.6" font-size="8" fill="#30353c" textLength="19.6" lengthAdjust="spacingAndGlyphs">VGA1</text>
<rect x="294.5" y="393.8" width="79.60000000000002" height="15" rx="7.5" fill="#45474a"/>
<rect x="295.5" y="394.8" width="77.60000000000002" height="13" rx="6.5" fill="#b3b5b7"/>
<path d="M316.90,389.40 L351.20,389.40 Q357.20,389.40 357.20,395.40 L353.70,409.60 Q353.70,414.60 348.70,414.60 L319.40,414.60 Q314.40,414.60 314.40,409.60 L310.90,395.40 Q310.90,389.40 316.90,389.40 Z" fill="#3c3e41"/>
<path d="M316.90,390.40 L351.20,390.40 Q356.20,390.40 356.20,395.40 L352.70,409.60 Q352.70,413.60 348.70,413.60 L319.40,413.60 Q315.40,413.60 315.40,409.60 L311.90,395.40 Q311.90,390.40 316.90,390.40 Z" fill="#a3a5a8"/>
<path d="M318.90,396.20 L349.70,396.20 Q352.70,396.20 352.70,399.20 L350.20,407.60 Q350.20,410.60 347.20,410.60 L321.40,410.60 Q318.40,410.60 318.40,407.60 L315.90,399.20 Q315.90,396.20 318.90,396.20 Z" fill="#2b2e35"/>
<circle cx="321.0" cy="398.7" r="1.1" fill="#0c0c0e"/>
<circle cx="327.2" cy="398.7" r="1.1" fill="#0c0c0e"/>
<circle cx="333.4" cy="398.7" r="1.1" fill="#0c0c0e"/>
<circle cx="339.7" cy="398.7" r="1.1" fill="#0c0c0e"/>
<circle cx="345.9" cy="398.7" r="1.1" fill="#0c0c0e"/>
<circle cx="321.0" cy="403.5" r="1.1" fill="#0c0c0e"/>
<circle cx="327.2" cy="403.5" r="1.1" fill="#0c0c0e"/>
<circle cx="333.4" cy="403.5" r="1.1" fill="#0c0c0e"/>
<circle cx="339.7" cy="403.5" r="1.1" fill="#0c0c0e"/>
<circle cx="345.9" cy="403.5" r="1.1" fill="#0c0c0e"/>
<circle cx="321.0" cy="408.6" r="1.1" fill="#0c0c0e"/>
<circle cx="327.2" cy="408.6" r="1.1" fill="#0c0c0e"/>
<circle cx="333.4" cy="408.6" r="1.1" fill="#0c0c0e"/>
<circle cx="339.7" cy="408.6" r="1.1" fill="#0c0c0e"/>
<circle cx="345.9" cy="408.6" r="1.1" fill="#0c0c0e"/>
<circle cx="301.4" cy="401.3" r="6" fill="#5e6063"/>
<circle cx="301.4" cy="401.3" r="4.90" fill="url(#gNut)"/>
<circle cx="301.4" cy="401.3" r="3.00" fill="#4a4c4f"/>
<circle cx="301.7" cy="401.6" r="1.32" fill="#8a8c8f"/>
<circle cx="367.9" cy="401.3" r="6" fill="#5e6063"/>
<circle cx="367.9" cy="401.3" r="4.90" fill="url(#gNut)"/>
<circle cx="367.9" cy="401.3" r="3.00" fill="#4a4c4f"/>
<circle cx="368.2" cy="401.6" r="1.32" fill="#8a8c8f"/>
<text x="323.1" y="384.7" font-size="8" fill="#30353c" textLength="19.6" lengthAdjust="spacingAndGlyphs">VGA2</text>
<rect x="381.4" y="340.2" width="43.2" height="10" rx="1" fill="#d0d3cd"/>
<rect x="381.4" y="348.9" width="43.2" height="1.4" fill="#8c8e8a"/>
<rect x="382.8" y="341.5" width="9" height="5.2" fill="#3e5a2a"/>
<rect x="384.3" y="342.5" width="6" height="3" fill="#6f9245"/>
<rect x="414" y="341.5" width="9" height="5.2" fill="#3e5a2a"/>
<rect x="415.5" y="342.5" width="6" height="3" fill="#6f9245"/>
<path d="M394.5,341.8 L411,341.8 L412.5,346.5 L419.5,348.3 L419.5,368.5 L386,368.5 L386,348.3 L393,346.5 Z" fill="#1b1b1c"/>
<rect x="386" y="368.3" width="33.5" height="2.2" fill="#b3b4b2"/>
<rect x="433.9" y="340.2" width="43.2" height="10" rx="1" fill="#d0d3cd"/>
<rect x="433.9" y="348.9" width="43.2" height="1.4" fill="#8c8e8a"/>
<rect x="435.3" y="341.5" width="9" height="5.2" fill="#3e5a2a"/>
<rect x="436.8" y="342.5" width="6" height="3" fill="#6f9245"/>
<rect x="466.5" y="341.5" width="9" height="5.2" fill="#3e5a2a"/>
<rect x="468.0" y="342.5" width="6" height="3" fill="#6f9245"/>
<path d="M447.0,341.8 L463.5,341.8 L465.0,346.5 L472.0,348.3 L472.0,368.5 L438.5,368.5 L438.5,348.3 L445.5,346.5 Z" fill="#1b1b1c"/>
<rect x="438.5" y="368.3" width="33.5" height="2.2" fill="#b3b4b2"/>
<text x="392.7" y="336.3" font-size="8" fill="#30353c" textLength="19.3" lengthAdjust="spacingAndGlyphs">LAN1</text>
<text x="444.3" y="336.3" font-size="8" fill="#30353c" textLength="19.3" lengthAdjust="spacingAndGlyphs">LAN2</text>
<circle cx="433.3" cy="333.5" r="0.8" fill="#555"/>
<rect x="386.1" y="377.7" width="33.19999999999999" height="14.0" fill="#141414"/>
<rect x="388.6" y="379.5" width="28.19999999999999" height="3.6" fill="#3b4f8c"/>
<rect x="389.1" y="380.0" width="27.19999999999999" height="1.2" fill="#6478b8"/>
<rect x="389.1" y="384.7" width="27.19999999999999" height="1.2" fill="#262626"/>
<rect x="386.1" y="389.7" width="33.19999999999999" height="2" fill="#b4b5b4"/>
<rect x="386.1" y="399" width="33.19999999999999" height="14" fill="#141414"/>
<rect x="388.6" y="400.8" width="28.19999999999999" height="3.6" fill="#3b4f8c"/>
<rect x="389.1" y="401.3" width="27.19999999999999" height="1.2" fill="#6478b8"/>
<rect x="389.1" y="406" width="27.19999999999999" height="1.2" fill="#262626"/>
<rect x="386.1" y="411" width="33.19999999999999" height="2" fill="#b4b5b4"/>
<rect x="438.6" y="377.7" width="33.19999999999999" height="14.0" fill="#141414"/>
<rect x="441.1" y="379.5" width="28.19999999999999" height="3.6" fill="#3b4f8c"/>
<rect x="441.6" y="380.0" width="27.19999999999999" height="1.2" fill="#6478b8"/>
<rect x="441.6" y="384.7" width="27.19999999999999" height="1.2" fill="#262626"/>
<rect x="438.6" y="389.7" width="33.19999999999999" height="2" fill="#b4b5b4"/>
<rect x="438.6" y="399" width="33.19999999999999" height="14" fill="#141414"/>
<rect x="441.1" y="400.8" width="28.19999999999999" height="3.6" fill="#3b4f8c"/>
<rect x="441.6" y="401.3" width="27.19999999999999" height="1.2" fill="#6478b8"/>
<rect x="441.6" y="406" width="27.19999999999999" height="1.2" fill="#262626"/>
<rect x="438.6" y="411" width="33.19999999999999" height="2" fill="#b4b5b4"/>
<text x="378.5" y="388" font-size="7.5" fill="#3e434b">2</text>
<text x="378.5" y="409.5" font-size="7.5" fill="#3e434b">1</text>
<text x="429" y="388" font-size="7.5" fill="#3e434b">4</text>
<text x="429" y="409.5" font-size="7.5" fill="#3e434b">3</text>
<text x="484" y="362" font-size="7.5" fill="#3e434b">6</text>
<text x="484" y="385" font-size="7.5" fill="#3e434b">5</text>
<rect x="491.9" y="353.3" width="33.6" height="14.0" fill="#161616"/>
<rect x="494.4" y="355.3" width="28.6" height="9.0" fill="#222"/>
<rect x="501.9" y="362.0" width="17.6" height="1.5" fill="#4a4a4a"/>
<rect x="491.9" y="366.1" width="33.6" height="1.2" fill="#7a7a7a"/>
<rect x="491.9" y="375.2" width="33.6" height="14.0" fill="#161616"/>
<rect x="494.4" y="377.2" width="28.6" height="9.0" fill="#222"/>
<rect x="501.9" y="383.9" width="17.6" height="1.5" fill="#4a4a4a"/>
<rect x="491.9" y="388.0" width="33.6" height="1.2" fill="#7a7a7a"/>
<text x="501.6" y="349.4" font-size="8" fill="#30353c" textLength="15.6" lengthAdjust="spacingAndGlyphs">USB</text>
<text x="498.9" y="398.2" font-size="8" fill="#30353c" textLength="19.5" lengthAdjust="spacingAndGlyphs">HDMI</text>
<path d="M489.7,402.2 L526,402.2 L526,409.3 L522.7,414.4 L493.3,414.4 L489.7,409.3 Z" fill="#161616"/>
<path d="M491.5,404.2 L524.2,404.2 L524.2,408.5 L521.5,411.5 L494.5,411.5 L491.5,408.5 Z" fill="#2c2c2c"/>
<polyline points="490.6,409.6 494.2,412.8 521.8,412.8 525.2,409.6" fill="none" stroke="#c9c9c7" stroke-width="0.9"/>
<circle cx="553.8" cy="366.3" r="10.5" fill="#4b4e50"/>
<circle cx="553.8" cy="366.3" r="8.8" fill="#cfe0b5"/>
<circle cx="553.8" cy="366.3" r="4.8" fill="#111"/>
<text x="542.3" y="351.9" font-size="8" fill="#30353c" textLength="23.3" lengthAdjust="spacingAndGlyphs">L-OUT</text>
<circle cx="553.4" cy="397" r="10.3" fill="#54484f"/>
<circle cx="553.4" cy="397" r="8.5" fill="#d9a3c9"/>
<circle cx="553.4" cy="397" r="4.6" fill="#111"/>
<text x="545.4" y="414.4" font-size="8" fill="#30353c" textLength="14.9" lengthAdjust="spacingAndGlyphs">MIC</text>
<circle cx="577.7" cy="397.3" r="4.6" fill="#1f2a20"/>
<circle cx="577.7" cy="409" r="4.6" fill="#2a2a1f"/>
<text x="569.8" y="390.1" font-size="8" fill="#30353c" textLength="17.4" lengthAdjust="spacingAndGlyphs">PWR</text>
<text x="570.1" y="421.5" font-size="8" fill="#30353c" textLength="15.9" lengthAdjust="spacingAndGlyphs">HDD</text>
<rect x="591.9" y="396" width="21" height="21.3" fill="#141414"/>
<path d="M593.2,398.3 L597.5,398.3 L597.5,400.5 L606.5,400.5 L606.5,398.3 L611.3,398.3 L611.3,415 L605,415 L605,413.5 L599,413.5 L599,415 L593.2,415 Z" fill="#e6e4df"/>
<path d="M595,400.3 L598.5,400.3 L598.5,402.3 L605.5,402.3 L605.5,400.3 L609.5,400.3 L609.5,411.8 L595,411.8 Z" fill="#6c6965"/>
<circle cx="599" cy="405.6" r="0.9" fill="#c8c6c0"/><circle cx="605" cy="405.6" r="0.9" fill="#c8c6c0"/>
<text x="595.6" y="392.8" font-size="8" fill="#30353c" textLength="15.3" lengthAdjust="spacingAndGlyphs">RST</text>
<circle cx="660" cy="390" r="7" fill="#d9dadb" stroke="#6a6c70" stroke-width="1"/>
<circle cx="660" cy="390" r="4" fill="#0e0e0e"/>
<rect x="644.7" y="170.5" width="41.9" height="55.2" fill="#1a1a1b"/>
<rect x="653.1" y="178.2" width="29.3" height="41.9" fill="#2d2e30"/>
<rect x="653.1" y="178.2" width="29.3" height="6" fill="#141415"/>
<rect x="654" y="184.2" width="27.5" height="0.8" fill="#3a3a3d"/>
<rect x="644" y="171" width="2" height="5" rx="1" fill="#e8e8e8"/>
<rect x="642.8" y="212" width="2.2" height="3.5" rx="1" fill="#e0e0e0"/>
<circle cx="669.4" cy="191" r="2.4" fill="#a6a9b8"/>
<text x="648.9" y="234.8" font-size="8" fill="#30353c" textLength="30.8" lengthAdjust="spacingAndGlyphs">PWR SW</text>
<polyline points="252.5,81.3 252.5,219.5 262.9,219.5" fill="none" stroke="#ff0000" stroke-width="1.5" stroke-linejoin="miter"/>
<polyline points="252.5,183.6 262.9,183.6" fill="none" stroke="#ff0000" stroke-width="1.5" stroke-linejoin="miter"/>
<circle cx="262.9" cy="183.6" r="2.8" fill="#ff0000"/>
<circle cx="262.9" cy="219.5" r="2.8" fill="#ff0000"/>
<polyline points="234.4,115.4 234.4,305.8 245,305.8" fill="none" stroke="#ff0000" stroke-width="1.5" stroke-linejoin="miter"/>
<polyline points="234.4,257.4 245,257.4" fill="none" stroke="#ff0000" stroke-width="1.5" stroke-linejoin="miter"/>
<circle cx="245" cy="257.4" r="2.8" fill="#ff0000"/>
<circle cx="245" cy="305.8" r="2.8" fill="#ff0000"/>
<polyline points="339.4,115.4 339.4,305.5 327.6,305.5" fill="none" stroke="#ff0000" stroke-width="1.5" stroke-linejoin="miter"/>
<polyline points="339.4,257.4 327.6,257.4" fill="none" stroke="#ff0000" stroke-width="1.5" stroke-linejoin="miter"/>
<circle cx="327.6" cy="257.4" r="2.8" fill="#ff0000"/>
<circle cx="327.6" cy="305.5" r="2.8" fill="#ff0000"/>
<polyline points="404.3,97.4 404.3,217.5 393.3,217.5" fill="none" stroke="#ff0000" stroke-width="1.5" stroke-linejoin="miter"/>
<polyline points="404.3,181.2 393.3,181.2" fill="none" stroke="#ff0000" stroke-width="1.5" stroke-linejoin="miter"/>
<circle cx="393.3" cy="181.2" r="2.8" fill="#ff0000"/>
<circle cx="393.3" cy="217.5" r="2.8" fill="#ff0000"/>
<polyline points="444.2,115.4 444.2,305 433.4,305" fill="none" stroke="#ff0000" stroke-width="1.5" stroke-linejoin="miter"/>
<polyline points="444.2,257.5 433.4,257.5" fill="none" stroke="#ff0000" stroke-width="1.5" stroke-linejoin="miter"/>
<circle cx="433.4" cy="257.5" r="2.8" fill="#ff0000"/>
<circle cx="433.4" cy="305" r="2.8" fill="#ff0000"/>
<polyline points="527.5,76.2 527.5,304.6 537.3,304.6" fill="none" stroke="#ff0000" stroke-width="1.5" stroke-linejoin="miter"/>
<polyline points="527.5,183.8 537.3,183.8" fill="none" stroke="#ff0000" stroke-width="1.5" stroke-linejoin="miter"/>
<polyline points="527.5,217.3 537.3,217.3" fill="none" stroke="#ff0000" stroke-width="1.5" stroke-linejoin="miter"/>
<polyline points="527.5,253.7 537.3,253.7" fill="none" stroke="#ff0000" stroke-width="1.5" stroke-linejoin="miter"/>
<circle cx="537.3" cy="183.8" r="2.8" fill="#ff0000"/>
<circle cx="537.3" cy="217.3" r="2.8" fill="#ff0000"/>
<circle cx="537.3" cy="253.7" r="2.8" fill="#ff0000"/>
<circle cx="537.3" cy="304.6" r="2.8" fill="#ff0000"/>
<polyline points="509.2,132.4 509.2,381.5 498,381.5" fill="none" stroke="#ff0000" stroke-width="1.5" stroke-linejoin="miter"/>
<polyline points="509.2,359.6 498,359.6" fill="none" stroke="#ff0000" stroke-width="1.5" stroke-linejoin="miter"/>
<circle cx="498" cy="359.6" r="2.8" fill="#ff0000"/>
<circle cx="498" cy="381.5" r="2.8" fill="#ff0000"/>
<polyline points="554.2,117 554.2,366.3" fill="none" stroke="#ff0000" stroke-width="1.5" stroke-linejoin="miter"/>
<circle cx="554" cy="366.5" r="2.8" fill="#ff0000"/>
<polyline points="255.5,467.8 255.5,352 244.6,352" fill="none" stroke="#ff0000" stroke-width="1.5" stroke-linejoin="miter"/>
<polyline points="255.5,400.1 244.6,400.1" fill="none" stroke="#ff0000" stroke-width="1.5" stroke-linejoin="miter"/>
<circle cx="244.6" cy="352" r="2.8" fill="#ff0000"/>
<circle cx="244.6" cy="400.1" r="2.8" fill="#ff0000"/>
<polyline points="339.3,469.8 339.3,353.6 327.8,353.6" fill="none" stroke="#ff0000" stroke-width="1.5" stroke-linejoin="miter"/>
<polyline points="339.3,401.3 327.8,401.3" fill="none" stroke="#ff0000" stroke-width="1.5" stroke-linejoin="miter"/>
<circle cx="327.8" cy="353.6" r="2.8" fill="#ff0000"/>
<circle cx="327.8" cy="401.3" r="2.8" fill="#ff0000"/>
<polyline points="396.4,463.8 396.4,353.2" fill="none" stroke="#ff0000" stroke-width="1.5" stroke-linejoin="miter"/>
<circle cx="396.2" cy="353.2" r="2.8" fill="#ff0000"/>
<polyline points="465.3,465.1 465.3,354.5" fill="none" stroke="#ff0000" stroke-width="1.5" stroke-linejoin="miter"/>
<circle cx="465.4" cy="354.5" r="2.8" fill="#ff0000"/>
<polyline points="414.1,385.1 403.5,385.1 403.5,483.2 456.5,483.2 456.5,385.1 445.2,385.1" fill="none" stroke="#ff0000" stroke-width="1.5" stroke-linejoin="miter"/>
<polyline points="403.5,406.6 414.1,406.6" fill="none" stroke="#ff0000" stroke-width="1.5" stroke-linejoin="miter"/>
<polyline points="456.5,406.6 445.2,406.6" fill="none" stroke="#ff0000" stroke-width="1.5" stroke-linejoin="miter"/>
<polyline points="430,483.2 430,494.6" fill="none" stroke="#ff0000" stroke-width="1.5" stroke-linejoin="miter"/>
<circle cx="414.1" cy="385.1" r="2.8" fill="#ff0000"/>
<circle cx="414.1" cy="406.6" r="2.8" fill="#ff0000"/>
<circle cx="445.2" cy="385.1" r="2.8" fill="#ff0000"/>
<circle cx="445.2" cy="406.6" r="2.8" fill="#ff0000"/>
<polyline points="510.3,481.9 510.3,409" fill="none" stroke="#ff0000" stroke-width="1.5" stroke-linejoin="miter"/>
<circle cx="510.5" cy="409" r="2.8" fill="#ff0000"/>
<polyline points="553.5,472.7 553.5,400.8" fill="none" stroke="#ff0000" stroke-width="1.5" stroke-linejoin="miter"/>
<circle cx="554.3" cy="400.8" r="2.8" fill="#ff0000"/>
<text x="230.6" y="76.2" font-size="14" font-weight="bold" fill="#000" textLength="46.0" lengthAdjust="spacingAndGlyphs">USB2.0</text>
<text x="216.9" y="109.8" font-size="14" font-weight="bold" fill="#000" textLength="32.3" lengthAdjust="spacingAndGlyphs">COM</text>
<text x="323.4" y="111.6" font-size="14" font-weight="bold" fill="#000" textLength="32.1" lengthAdjust="spacingAndGlyphs">COM</text>
<text x="382" y="91.4" font-size="14" font-weight="bold" fill="#000" textLength="46.6" lengthAdjust="spacingAndGlyphs">USB2.0</text>
<text x="426.7" y="111.6" font-size="14" font-weight="bold" fill="#000" textLength="32.6" lengthAdjust="spacingAndGlyphs">COM</text>
<text x="467.1" y="129.1" font-size="14" font-weight="bold" fill="#000" textLength="45.8" lengthAdjust="spacingAndGlyphs">USB2.0</text>
<text x="507" y="71.4" font-size="14" font-weight="bold" fill="#000" textLength="46.1" lengthAdjust="spacingAndGlyphs">USB2.0</text>
<text x="537" y="113.2" font-size="14" font-weight="bold" fill="#000" textLength="6.6" lengthAdjust="spacingAndGlyphs">L</text>
<rect x="545.1" y="108.3" width="4.3" height="2" fill="#000"/>
<text x="551.8" y="113.2" font-size="14" font-weight="bold" fill="#000" textLength="28.2" lengthAdjust="spacingAndGlyphs">OUT</text>
<text x="238.7" y="481.8" font-size="14" font-weight="bold" fill="#000" textLength="31.7" lengthAdjust="spacingAndGlyphs">COM</text>
<text x="321.1" y="484.7" font-size="14" font-weight="bold" fill="#000" textLength="28.5" lengthAdjust="spacingAndGlyphs">VGA</text>
<text x="373.7" y="476.3" font-size="14" font-weight="bold" fill="#000" textLength="26.3" lengthAdjust="spacingAndGlyphs">LAN</text>
<text x="461.2" y="478" font-size="14" font-weight="bold" fill="#000" textLength="34.6" lengthAdjust="spacingAndGlyphs">LAN2</text>
<text x="408.1" y="507.8" font-size="14" font-weight="bold" fill="#000" textLength="45.7" lengthAdjust="spacingAndGlyphs">USB3.0</text>
<text x="489.5" y="496.9" font-size="14" font-weight="bold" fill="#000" textLength="37.0" lengthAdjust="spacingAndGlyphs">HDMI</text>
<text x="540.3" y="487.7" font-size="14" font-weight="bold" fill="#000" textLength="25.4" lengthAdjust="spacingAndGlyphs">MIC</text>
</svg>
</body></html>
